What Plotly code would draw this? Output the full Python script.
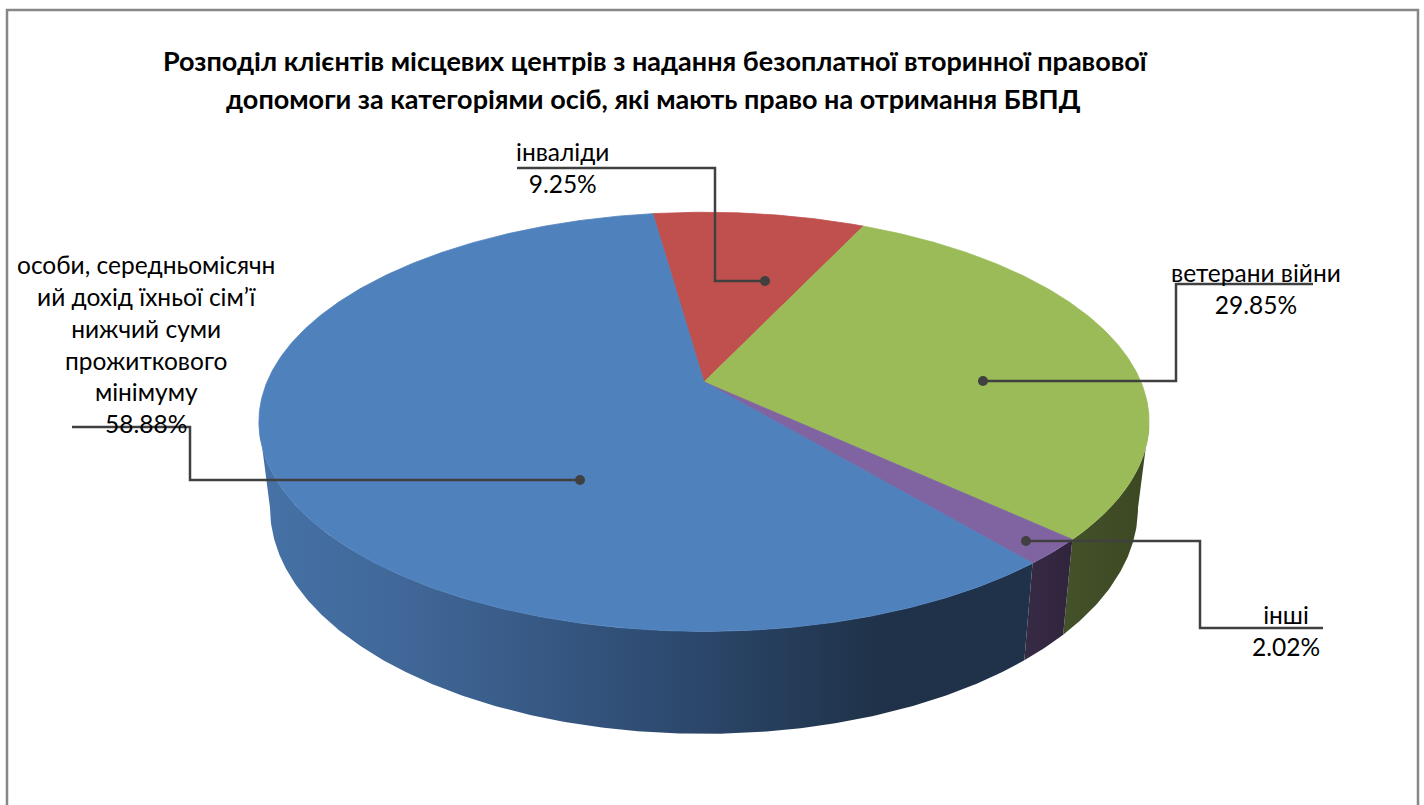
import numpy as np
import plotly.graph_objects as go

# ---------------- data ----------------
categories = [
    "інваліди",
    "ветерани війни",
    "інші",
    "особи, середньомісячний дохід їхньої сім’ї нижчий суми прожиткового мінімуму",
]
shares = [9.25, 29.85, 2.02, 58.88]          # percent
label_display = [
    "інваліди",
    "ветерани війни",
    "інші",
    "особи, середньомісячн<br>ий дохід їхньої сім’ї<br>нижчий суми<br>прожиткового<br>мінімуму",
]
title_lines = [
    "Розподіл клієнтів місцевих центрів з надання безоплатної вторинної правової",
    "допомоги за категоріями осіб, які мають право на отримання БВПД",
]

# ---------------- style / layout ----------------
top_colors = ["#c0504d", "#9bbb59", "#8064a2", "#4f81bd"]
wall_scales = [
    [[0, "#5e2624"], [1, "#4a1d1c"]],
    [[0, "#44522a"], [1, "#3b4822"]],
    [[0, "#372a45"], [1, "#30243d"]],
    [[0, "#4672a7"], [0.22, "#3f6595"], [0.5, "#2f4d74"], [0.8, "#1f3249"], [1, "#1f3249"]],
]
W, H = 1424, 805
CX, CY = 704.0, 382.0        # apex of the pie (pixels)
A, B = 202.0, 437.0          # vertical / horizontal semi-axes
P = 0.19                     # perspective strength
T = 83.0                     # thickness
K = 0.975                    # bottom rim horizontal shrink
START = -8.0                 # first slice start angle, degrees clockwise from 12 o'clock

label_pos = [(562, 167), (1256, 288), (1286, 630), (146, 344)]
leader_paths = [
    [(517, 168), (715, 168), (715, 281), (765, 281)],
    [(1313, 284), (1176, 284), (1176, 381), (983, 381)],
    [(1323, 628), (1200, 628), (1200, 541), (1026, 541)],
    [(72, 427), (190, 427), (190, 480), (580, 480)],
]
LABEL_FONT = dict(family="Lato, 'Open Sans', sans-serif", size=24.5, color="#000000")
TITLE_FONT = dict(family="Lato, 'Open Sans', sans-serif", size=27, color="#000000")


def proj(theta_deg, drop=0.0, shrink=1.0):
    th = np.radians(theta_deg)
    u = np.sin(th)
    v = -np.cos(th)
    s = 1.0 / (1.0 - P * v)
    return CX + B * u * s * shrink, CY + (A * v + drop) * s


fig = go.Figure()

# slice angle ranges from the data
total = float(sum(shares))
bounds = []
acc = START
for val in shares:
    a0 = acc
    acc = acc + 360.0 * val / total
    bounds.append((a0, acc))

th_right = np.degrees(np.arccos(-P))
th_left = 360.0 - th_right

# side walls (drawn first)
for i, (a0, a1) in enumerate(bounds):
    lo, hi = max(a0, th_right), min(a1, th_left)
    if hi <= lo:
        continue
    th = np.linspace(lo, hi, max(2, int((hi - lo) * 2)))
    xt, yt = proj(th)
    xb, yb = proj(th[::-1], drop=T, shrink=K)
    fig.add_trace(go.Scatter(
        x=np.concatenate([xt, xb, xt[:1]]), y=np.concatenate([yt, yb, yt[:1]]),
        mode="lines", fill="toself",
        fillgradient=dict(type="horizontal", colorscale=wall_scales[i]),
        line=dict(width=0), hoverinfo="skip", showlegend=False,
    ))

# top faces
for i, (a0, a1) in enumerate(bounds):
    th = np.linspace(a0, a1, max(2, int((a1 - a0) * 2)))
    xt, yt = proj(th)
    fig.add_trace(go.Scatter(
        x=np.concatenate([[CX], xt, [CX]]), y=np.concatenate([[CY], yt, [CY]]),
        mode="lines", fill="toself", fillcolor=top_colors[i],
        line=dict(width=0.8, color=top_colors[i]),
        name=categories[i], text=f"{categories[i]}: {shares[i]:.2f}%",
        hoverinfo="text", hoveron="fills", showlegend=False,
    ))

shapes = [dict(type="rect", xref="x", yref="y", x0=7, y0=10, x1=1418, y1=812,
               line=dict(color="#878787", width=2.5), fillcolor="rgba(0,0,0,0)")]
for path in leader_paths:
    d = "M " + " L ".join(f"{x},{y}" for x, y in path)
    shapes.append(dict(type="path", xref="x", yref="y", path=d,
                       line=dict(color="#404040", width=2.5)))
    ex, ey = path[-1]
    shapes.append(dict(type="circle", xref="x", yref="y", x0=ex - 5, x1=ex + 5,
                       y0=ey - 5, y1=ey + 5, fillcolor="#404040",
                       line=dict(color="#404040", width=0)))

annotations = []
for (tx, ty), txt in zip([(655, 60), (653, 98)], title_lines):
    annotations.append(dict(x=tx, y=ty, xref="x", yref="y", text=f"<b>{txt}</b>",
                            showarrow=False, font=TITLE_FONT, xanchor="center", yanchor="middle"))
for i, (lx, ly) in enumerate(label_pos):
    annotations.append(dict(x=lx, y=ly, xref="x", yref="y",
                            text=f"{label_display[i]}<br>{shares[i]:.2f}%",
                            showarrow=False, font=LABEL_FONT, align="center",
                            xanchor="center", yanchor="middle"))

fig.update_layout(
    width=W, height=H, margin=dict(l=0, r=0, t=0, b=0),
    paper_bgcolor="white", plot_bgcolor="white",
    xaxis=dict(range=[0, W], visible=False, fixedrange=True),
    yaxis=dict(range=[H, 0], visible=False, fixedrange=True),
    shapes=shapes, annotations=annotations, showlegend=False,
)

fig.write_html("out.html", config={"displayModeBar": False},
               post_script="document.body.style.margin='0';document.body.style.overflow='hidden';")
